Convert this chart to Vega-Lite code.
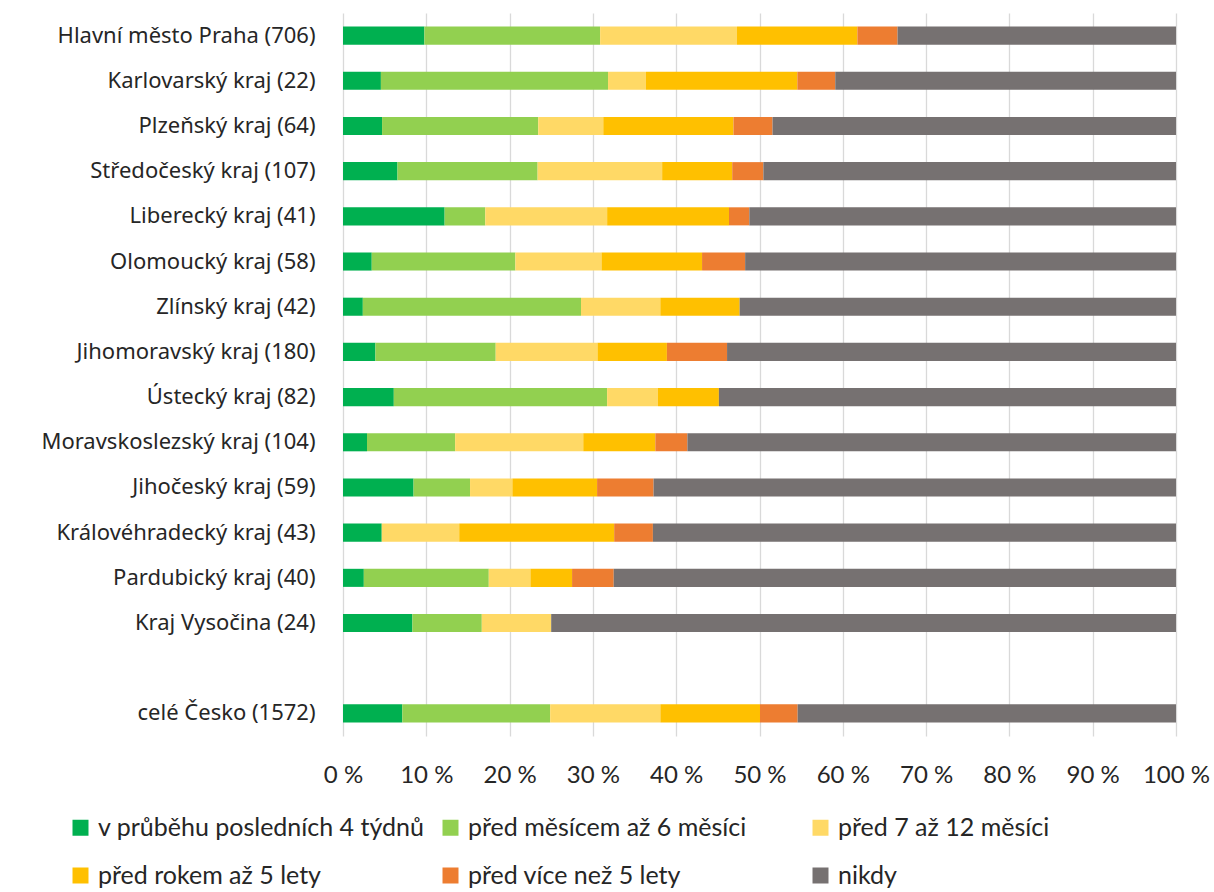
{
  "$schema": "https://vega.github.io/schema/vega-lite/v6.json",
  "autosize": {"type": "none"},
  "padding": {"left": 343, "top": 13, "right": 38, "bottom": 156},
  "width": 833,
  "height": 723,
  "background": "white",
  "config": {"view": {"stroke": null}},
  "datasets": {
    "cats": [
      {"k": "a", "i": 1, "cat": "v průběhu posledních 4 týdnů"},
      {"k": "b", "i": 2, "cat": "před měsícem až 6 měsíci"},
      {"k": "c", "i": 3, "cat": "před 7 až 12 měsíci"},
      {"k": "d", "i": 4, "cat": "před rokem až 5 lety"},
      {"k": "e", "i": 5, "cat": "před více než 5 lety"},
      {"k": "f", "i": 6, "cat": "nikdy"}
    ],
    "regions": [
      {"r": "Hlavní město Praha (706)", "a": 9.77, "b": 21.1, "c": 16.43, "d": 14.45, "e": 4.82, "f": 33.43},
      {"r": "Karlovarský kraj (22)", "a": 4.55, "b": 27.27, "c": 4.55, "d": 18.18, "e": 4.55, "f": 40.91},
      {"r": "Plzeňský kraj (64)", "a": 4.69, "b": 18.75, "c": 7.81, "d": 15.63, "e": 4.69, "f": 48.44},
      {"r": "Středočeský kraj (107)", "a": 6.54, "b": 16.82, "c": 14.95, "d": 8.41, "e": 3.74, "f": 49.53},
      {"r": "Liberecký kraj (41)", "a": 12.2, "b": 4.88, "c": 14.63, "d": 14.63, "e": 2.44, "f": 51.22},
      {"r": "Olomoucký kraj (58)", "a": 3.45, "b": 17.24, "c": 10.34, "d": 12.07, "e": 5.17, "f": 51.72},
      {"r": "Zlínský kraj (42)", "a": 2.38, "b": 26.19, "c": 9.52, "d": 9.52, "e": 0, "f": 52.38},
      {"r": "Jihomoravský kraj (180)", "a": 3.89, "b": 14.44, "c": 12.22, "d": 8.33, "e": 7.22, "f": 53.89},
      {"r": "Ústecký kraj (82)", "a": 6.1, "b": 25.61, "c": 6.1, "d": 7.32, "e": 0, "f": 54.88},
      {"r": "Moravskoslezský kraj (104)", "a": 2.88, "b": 10.58, "c": 15.38, "d": 8.65, "e": 3.85, "f": 58.65},
      {"r": "Jihočeský kraj (59)", "a": 8.47, "b": 6.78, "c": 5.08, "d": 10.17, "e": 6.78, "f": 62.71},
      {"r": "Královéhradecký kraj (43)", "a": 4.65, "b": 0, "c": 9.3, "d": 18.6, "e": 4.65, "f": 62.79},
      {"r": "Pardubický kraj (40)", "a": 2.5, "b": 15, "c": 5, "d": 5, "e": 5, "f": 67.5},
      {"r": "Kraj Vysočina (24)", "a": 8.33, "b": 8.33, "c": 8.33, "d": 0, "e": 0, "f": 75},
      {"r": "celé Česko (1572)", "a": 7.12, "b": 17.75, "c": 13.23, "d": 11.96, "e": 4.52, "f": 45.42}
    ]
  },
  "data": {"name": "regions"},
  "transform": [
    {"fold": ["a", "b", "c", "d", "e", "f"], "as": ["k", "v"]},
    {"lookup": "k", "from": {"data": {"name": "cats"}, "key": "k", "fields": ["cat", "i"]}}
  ],
  "mark": {"type": "bar"},
  "encoding": {
    "y": {
      "field": "r",
      "type": "nominal",
      "title": null,
      "scale": {
        "domain": ["Hlavní město Praha (706)", "Karlovarský kraj (22)", "Plzeňský kraj (64)", "Středočeský kraj (107)", "Liberecký kraj (41)", "Olomoucký kraj (58)", "Zlínský kraj (42)", "Jihomoravský kraj (180)", "Ústecký kraj (82)", "Moravskoslezský kraj (104)", "Jihočeský kraj (59)", "Královéhradecký kraj (43)", "Pardubický kraj (40)", "Kraj Vysočina (24)", " ", "celé Česko (1572)"],
        "paddingInner": 0.6,
        "paddingOuter": 0.3
      },
      "axis": {
        "domain": false,
        "ticks": false,
        "labelPadding": 28,
        "labelFont": "Noto Sans",
        "labelFontSize": 22,
        "labelColor": "#262626",
        "labelLimit": 400
      }
    },
    "x": {
      "field": "v",
      "type": "quantitative",
      "stack": "normalize",
      "title": null,
      "scale": {"domain": [0, 1], "nice": false},
      "axis": {
        "values": [0, 0.1, 0.2, 0.3, 0.4, 0.5, 0.6, 0.7, 0.8, 0.9, 1],
        "labelExpr": "format(datum.value * 100, 'd') + ' %'",
        "domain": false,
        "ticks": false,
        "grid": true,
        "gridColor": "#D9D9D9",
        "gridWidth": 1.3,
        "labelPadding": 27,
        "labelFont": "Lato",
        "labelFontSize": 24,
        "labelColor": "#262626",
        "labelFlush": false
      }
    },
    "color": {
      "field": "cat",
      "type": "nominal",
      "scale": {
        "domain": ["v průběhu posledních 4 týdnů", "před měsícem až 6 měsíci", "před 7 až 12 měsíci", "před rokem až 5 lety", "před více než 5 lety", "nikdy"],
        "range": ["#00B050", "#92D050", "#FFD966", "#FFC000", "#ED7D31", "#767171"]
      },
      "legend": {
        "title": null,
        "orient": "none",
        "legendX": -275,
        "legendY": 802,
        "direction": "horizontal",
        "columns": 3,
        "gridAlign": "all",
        "columnPadding": 13,
        "rowPadding": 22,
        "symbolType": "square",
        "symbolSize": 256,
        "symbolStrokeWidth": 0,
        "labelOffset": 5,
        "labelFont": "Lato",
        "labelFontSize": 25,
        "labelColor": "#262626",
        "labelLimit": 500
      }
    },
    "order": {"field": "i", "type": "quantitative", "sort": "ascending"}
  }
}
